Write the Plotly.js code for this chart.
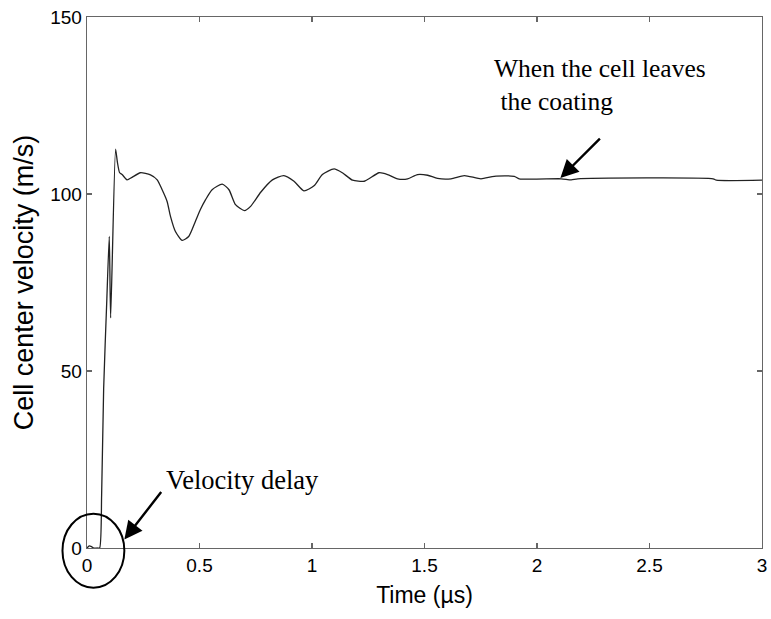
<!DOCTYPE html>
<html>
<head>
<meta charset="utf-8">
<script src="https://cdn.plot.ly/plotly-3.0.1.min.js"></script>
<style>
html, body { margin: 0; padding: 0; background: #fff; }
#chart { width: 771px; height: 619px; }
</style>
</head>
<body>
<div id="chart"></div>
<script>
// Time (µs)
const timeUs = [0, 0.01, 0.02, 0.03, 0.045, 0.056, 0.065, 0.074, 0.088, 0.099, 0.105, 0.127, 0.135, 0.145, 0.156, 0.178, 0.2, 0.237, 0.282, 0.312, 0.334, 0.356, 0.371, 0.393, 0.423, 0.452, 0.482, 0.504, 0.527, 0.556, 0.601, 0.631, 0.66, 0.70, 0.727, 0.772, 0.824, 0.875, 0.92, 0.964, 1.009, 1.046, 1.098, 1.135, 1.18, 1.232, 1.298, 1.336, 1.38, 1.425, 1.469, 1.514, 1.558, 1.618, 1.677, 1.751, 1.81, 1.899, 1.921, 2.107, 2.152, 2.181, 2.783, 2.797, 3.0];
// Cell center velocity (m/s)
const velocity = [0, 0.6, 0.4, 0, 0, 0, 15, 45, 70, 88, 65, 112.7, 109, 106, 105.5, 104, 104.7, 106, 105.4, 104, 101.2, 97.9, 93.7, 89.4, 86.9, 88, 92.3, 95.6, 98.4, 101.2, 102.8, 101.2, 97, 95.3, 96.5, 100.5, 104, 105.2, 103.6, 100.9, 102.3, 105.5, 107.1, 106, 103.9, 103.6, 106, 105.5, 104.3, 104.3, 105.5, 105.3, 104.4, 104.3, 105.2, 104.3, 105, 105, 104.3, 104.3, 104.0, 104.3, 104.3, 103.9, 103.9];

const xTicks = [0, 0.5, 1, 1.5, 2, 2.5, 3];
const xTickLabels = ['0', '0.5', '1', '1.5', '2', '2.5', '3'];
const yTicks = [0, 50, 100, 150];
const yTickLabels = ['0', '50', '100', '150'];

const xRange = [0, 3];
const yRange = [0, 150];

// circle around the velocity delay region (data units)
const circleX = [-0.109, 0.166];
const circleY = [-11.2, 9.7];
const toPaper = (v, r) => (v - r[0]) / (r[1] - r[0]);

const serif = 'Liberation Serif, Times New Roman, serif';
const sans = 'Liberation Sans, Arial, Helvetica, sans-serif';

const trace = {
  x: timeUs,
  y: velocity,
  type: 'scatter',
  mode: 'lines',
  line: { color: '#222', width: 1.3, shape: 'spline', smoothing: 0.6 },
  hoverinfo: 'skip'
};

const axisCommon = {
  showgrid: false,
  zeroline: false,
  showline: true,
  mirror: 'ticks',
  linecolor: '#666',
  linewidth: 1.3,
  ticks: 'inside',
  ticklen: 5,
  tickcolor: '#666',
  tickwidth: 1.3,
  tickfont: { family: sans, size: 19, color: '#000' },
  automargin: false,
  fixedrange: true
};

const layout = {
  width: 771,
  height: 619,
  margin: { l: 87, r: 9, t: 17, b: 71 },
  paper_bgcolor: '#fff',
  plot_bgcolor: '#fff',
  showlegend: false,
  xaxis: Object.assign({}, axisCommon, {
    range: xRange,
    tickvals: xTicks,
    ticktext: xTickLabels,
    title: { text: 'Time (µs)', font: { family: sans, size: 23, color: '#000' }, standoff: 11 }
  }),
  yaxis: Object.assign({}, axisCommon, {
    range: yRange,
    tickvals: yTicks,
    ticktext: yTickLabels,
    title: { text: 'Cell center velocity (m/s)', font: { family: sans, size: 27, color: '#000' }, standoff: 8 }
  }),
  shapes: [{
    type: 'circle',
    xref: 'paper', yref: 'paper',
    x0: toPaper(circleX[0], xRange), x1: toPaper(circleX[1], xRange),
    y0: toPaper(circleY[0], yRange), y1: toPaper(circleY[1], yRange),
    line: { color: '#000', width: 2 }
  }],
  annotations: [
    {
      x: 0.166, y: 2.4, xref: 'x', yref: 'y',
      ax: 38, ay: -49,
      showarrow: true, arrowhead: 2, arrowsize: 1.5, arrowwidth: 2.4, arrowcolor: '#000',
      text: ''
    },
    {
      x: 0.69, y: 19.2, xref: 'x', yref: 'y',
      text: 'Velocity delay', showarrow: false,
      font: { family: serif, size: 26.5, color: '#000' },
      xanchor: 'center', yanchor: 'middle'
    },
    {
      x: 2.104, y: 104.5, xref: 'x', yref: 'y',
      ax: 41, ay: -41,
      showarrow: true, arrowhead: 2, arrowsize: 1.5, arrowwidth: 2.4, arrowcolor: '#000',
      text: ''
    },
    {
      x: 1.80, y: 130.8, xref: 'x', yref: 'y',
      text: 'When the cell leaves<br> the coating', showarrow: false,
      align: 'left',
      font: { family: serif, size: 25.5, color: '#000' },
      xanchor: 'left', yanchor: 'middle'
    }
  ]
};

Plotly.newPlot('chart', [trace], layout, { displayModeBar: false, staticPlot: true });
</script>
</body>
</html>
